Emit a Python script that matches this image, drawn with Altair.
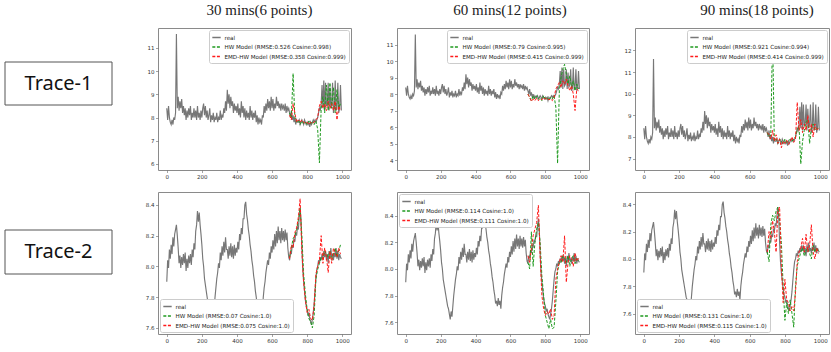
import altair as alt
import pandas as pd

# ---------------- data ----------------
X_REAL = list(range(0, 1000, 5))
X_PRED = list(range(700, 1000, 10))

T1_REAL = [
    8.4, 7.9, 8.5, 8.0, 7.8, 7.7, 7.9, 7.7, 8.0, 7.9,
    8.2, 11.6, 8.4, 8.9, 8.3, 8.7, 8.4, 8.8, 8.2, 8.5,
    8.1, 8.4, 7.9, 8.3, 8.0, 8.4, 8.1, 8.5, 7.9, 8.2,
    8.0, 8.4, 8.0, 8.3, 7.9, 8.5, 8.0, 8.2, 7.9, 8.3,
    8.0, 8.4, 8.6, 8.1, 8.5, 8.0, 8.3, 7.9, 8.1, 8.4,
    7.8, 8.1, 7.9, 8.2, 7.8, 8.0, 7.9, 8.2, 7.8, 8.0,
    7.9, 8.3, 7.9, 8.1, 8.0, 8.4, 8.2, 8.7, 8.3, 9.2,
    8.6, 9.0, 8.4, 8.9, 8.5, 8.7, 8.2, 8.6, 8.3, 8.5,
    8.2, 8.6, 8.1, 8.4, 8.0, 8.7, 8.2, 8.5, 8.0, 8.4,
    7.9, 8.3, 8.0, 8.2, 7.9, 8.5, 8.0, 8.3, 7.9, 8.2,
    8.0, 8.3, 7.8, 8.1, 7.7, 8.0, 7.8, 7.9, 7.7, 8.1,
    8.0, 8.5, 8.2, 8.6, 8.3, 8.8, 8.4, 8.7, 8.3, 8.9,
    8.4, 8.8, 8.3, 8.6, 8.4, 8.9, 8.5, 8.7, 8.4, 8.6,
    8.3, 8.6, 8.4, 8.5, 8.3, 8.6, 8.2, 8.5, 8.3, 8.4,
    8.2, 8.0, 8.3, 7.9, 8.1, 7.8, 8.0, 7.7, 7.9, 7.8,
    7.8, 7.9, 7.7, 7.8, 7.9, 7.8, 7.7, 7.9, 7.8, 7.7,
    7.8, 7.7, 7.8, 7.6, 7.8, 7.7, 7.8, 7.9, 7.8, 7.9,
    7.8, 7.9, 8.0, 8.2, 8.4, 8.3, 8.6, 9.4, 8.4, 9.6,
    8.3, 9.5, 8.5, 8.6, 9.5, 8.3, 9.3, 8.4, 8.6, 9.5,
    8.2, 8.4, 9.6, 8.3, 8.4, 9.5, 8.2, 8.4, 9.4, 8.3,
]

T2_REAL = [
    7.90, 8.04, 7.99, 8.11, 8.05, 8.14, 8.08, 8.19, 8.13, 8.21,
    8.24, 8.27, 8.20, 8.12, 8.02, 8.07, 7.99, 8.06, 8.01, 8.08,
    8.02, 8.09, 7.97, 8.05, 7.99, 8.07, 8.02, 8.08, 8.01, 8.11,
    8.06, 8.15, 8.11, 8.23, 8.27, 8.36, 8.29, 8.35, 8.27, 8.21,
    8.14, 8.05, 8.00, 7.92, 7.88, 7.84, 7.80, 7.76, 7.72, 7.70,
    7.66, 7.62, 7.68, 7.64, 7.72, 7.80, 7.86, 7.92, 7.96, 8.02,
    7.99, 8.09, 8.04, 8.13, 8.07, 8.16, 8.09, 8.19, 8.11, 8.11,
    8.05, 8.13, 8.07, 8.15, 8.06, 8.13, 8.05, 8.14, 8.07, 8.12,
    8.09, 8.16, 8.11, 8.21, 8.17, 8.25, 8.21, 8.31, 8.31, 8.40,
    8.42, 8.34, 8.30, 8.24, 8.20, 8.14, 8.10, 8.04, 8.00, 7.94,
    7.90, 7.84, 7.80, 7.74, 7.76, 7.72, 7.78, 7.73, 7.76, 7.70,
    7.80, 7.86, 7.90, 7.96, 8.00, 8.04, 8.01, 8.09, 8.05, 8.13,
    8.09, 8.17, 8.11, 8.21, 8.13, 8.23, 8.15, 8.26, 8.17, 8.23,
    8.15, 8.25, 8.17, 8.23, 8.16, 8.24, 8.17, 8.22, 8.12, 8.06,
    8.04, 8.10, 8.08, 8.14, 8.12, 8.18, 8.16, 8.22, 8.20, 8.26,
    8.24, 8.32, 8.38, 8.30, 8.12, 7.98, 7.90, 7.84, 7.78, 7.74,
    7.72, 7.68, 7.70, 7.66, 7.64, 7.62, 7.66, 7.70, 7.76, 7.84,
    7.92, 7.98, 8.00, 8.04, 8.02, 8.06, 8.04, 8.08, 8.05, 8.10,
    8.06, 8.10, 8.04, 8.08, 8.02, 8.10, 8.05, 8.12, 8.06, 8.08,
    8.04, 8.09, 8.06, 8.12, 8.05, 8.10, 8.04, 8.08, 8.06, 8.05,
]

# Trace-1 predictions (x = 700..990 step 10)
T1_HW_30 = [8.2, 8.0, 9.9, 8.0, 7.8, 7.9, 7.7, 7.85, 7.75, 7.8,
            7.7, 7.85, 7.75, 7.8, 7.7, 7.85, 7.5, 6.05, 8.4, 8.9,
            8.2, 9.4, 8.3, 9.5, 8.4, 9.3, 8.2, 9.2, 8.4, 8.6]
T1_EMD_30 = [8.1, 7.9, 8.6, 8.2, 7.8, 7.9, 7.8, 7.9, 7.8, 7.75,
             7.8, 7.7, 7.8, 7.75, 7.8, 7.9, 8.0, 8.5, 8.7, 8.4,
             8.6, 8.3, 8.7, 8.4, 8.6, 8.3, 8.7, 7.9, 8.5, 8.3]
T1_HW_60 = [8.0, 7.8, 7.6, 7.9, 7.7, 7.9, 7.7, 7.8, 7.6, 7.9,
            7.7, 7.8, 7.6, 7.8, 7.7, 7.9, 7.2, 3.8, 8.2, 9.0,
            9.5, 9.8, 9.2, 8.6, 9.1, 8.4, 8.8, 8.2, 8.6, 8.3]
T1_EMD_60 = [8.0, 7.8, 7.55, 7.7, 7.6, 7.75, 7.6, 7.7, 7.65, 7.8,
             7.7, 7.75, 7.65, 7.7, 7.6, 7.8, 8.3, 8.5, 8.7, 8.4,
             8.8, 8.6, 8.9, 8.5, 8.2, 8.5, 8.0, 7.0, 8.3, 8.2]
T1_HW_90 = [8.2, 8.0, 8.1, 12.75, 7.8, 7.9, 7.7, 7.9, 7.8, 7.7,
            7.9, 7.75, 7.8, 7.9, 7.8, 7.9, 8.0, 8.3, 8.5, 6.75,
            7.8, 8.3, 8.7, 8.8, 7.7, 8.4, 8.6, 8.3, 8.4, 8.4]
T1_EMD_90 = [8.2, 8.1, 7.9, 8.3, 7.8, 8.1, 7.7, 7.9, 7.5, 7.8,
             7.7, 7.85, 7.65, 7.8, 8.0, 7.75, 7.9, 9.6, 8.3, 8.8,
             8.2, 8.6, 8.3, 9.0, 8.2, 8.6, 8.0, 8.6, 8.3, 8.4]

# Trace-2 predictions
T2_HW_30 = [8.06, 8.12, 8.18, 8.20, 8.24, 8.30, 8.38, 8.20, 7.95, 7.82,
            7.72, 7.66, 7.64, 7.60, 7.68, 7.92, 7.98, 8.02, 8.06, 8.05,
            8.10, 8.08, 8.06, 8.10, 8.04, 8.08, 8.12, 8.06, 8.10, 8.14]
T2_EMD_30 = [8.05, 8.14, 8.12, 8.22, 8.25, 8.32, 8.44, 8.10, 7.90, 7.78,
             7.70, 7.72, 7.66, 7.65, 7.75, 7.95, 8.00, 8.04, 8.20, 8.02,
             8.12, 8.06, 7.96, 8.10, 8.02, 8.12, 8.08, 8.06, 8.12, 8.08]
T2_HW_60 = [8.05, 8.00, 8.28, 8.02, 8.20, 8.30, 8.35, 8.20, 7.95, 7.80,
            7.65, 7.60, 7.55, 7.62, 7.55, 7.56, 7.75, 7.98, 8.05, 8.05,
            8.10, 8.08, 8.05, 8.10, 8.02, 8.08, 8.10, 8.04, 8.08, 8.06]
T2_EMD_60 = [8.10, 8.05, 8.15, 8.25, 8.30, 8.35, 8.48, 8.10, 7.80, 7.70,
             7.65, 7.68, 7.66, 7.70, 7.62, 7.65, 7.92, 8.00, 8.05, 8.10,
             8.05, 8.25, 7.90, 8.05, 8.10, 8.08, 8.02, 8.12, 8.06, 8.08]
T2_HW_90 = [8.05, 7.98, 8.25, 8.32, 8.28, 8.35, 8.38, 8.28, 8.12, 7.80,
            7.55, 7.68, 7.60, 7.70, 7.60, 7.50, 7.80, 7.95, 8.00, 8.05,
            8.08, 8.02, 8.06, 8.08, 8.04, 8.00, 8.10, 8.05, 8.08, 8.06]
T2_EMD_90 = [8.05, 8.20, 8.15, 8.28, 8.20, 8.05, 8.35, 8.38, 7.95, 7.68,
             7.85, 7.70, 7.68, 7.62, 7.65, 7.62, 7.75, 7.98, 8.05, 8.08,
             8.15, 8.05, 8.18, 8.05, 8.10, 8.25, 8.05, 8.00, 8.08, 8.04]

TITLES = ["30 mins(6 points)", "60 mins(12 points)", "90 mins(18 points)"]
TRACES = ["Trace-1", "Trace-2"]
REAL_LABEL = "real"
HW_LABELS = [
    ["HW Model (RMSE:0.526 Cosine:0.998)", "HW Model (RMSE:0.79 Cosine:0.995)", "HW Model (RMSE:0.921 Cosine:0.994)"],
    ["HW Model (RMSE:0.07 Cosine:1.0)", "HW Model (RMSE:0.114 Cosine:1.0)", "HW Model (RMSE:0.131 Cosine:1.0)"],
]
EMD_LABELS = [
    ["EMD-HW Model (RMSE:0.358 Cosine:0.999)", "EMD-HW Model (RMSE:0.415 Cosine:0.999)", "EMD-HW Model (RMSE:0.414 Cosine:0.999)"],
    ["EMD-HW Model (RMSE:0.075 Cosine:1.0)", "EMD-HW Model (RMSE:0.111 Cosine:1.0)", "EMD-HW Model (RMSE:0.115 Cosine:1.0)"],
]
X_TICKS = [0, 200, 400, 600, 800, 1000]
Y_DOMAINS = [
    [[5.74, 11.86], [3.4, 12.0], [6.47, 13.04]],
    [[7.56, 8.484], [7.51, 8.58], [7.45, 8.49]],
]
Y_TICKS = [
    [[6, 7, 8, 9, 10, 11], [4, 5, 6, 7, 8, 9, 10, 11], [7, 8, 9, 10, 11, 12]],
    [[7.6, 7.8, 8.0, 8.2, 8.4]] * 3,
]

REALS = [T1_REAL, T2_REAL]
HWS = [[T1_HW_30, T1_HW_60, T1_HW_90], [T2_HW_30, T2_HW_60, T2_HW_90]]
EMDS = [[T1_EMD_30, T1_EMD_60, T1_EMD_90], [T2_EMD_30, T2_EMD_60, T2_EMD_90]]

# ---------------- styling ----------------
GREY = "#777777"
GREEN = "#1f9a1f"
RED = "#ff1a1a"
PANEL_W = [193, 192, 194]
PANEL_H = 142
LEGEND_ORIENT = [["top-right"] * 3, ["bottom-left", "top-left", "bottom-left"]]
TITLE_DX = [5, 17, 25]


def panel(r, c):
    dom = [REAL_LABEL, HW_LABELS[r][c], EMD_LABELS[r][c]]
    leg = alt.Legend(orient=LEGEND_ORIENT[r][c])
    color = alt.Color("series:N", title=None,
                      scale=alt.Scale(domain=dom, range=[GREY, GREEN, RED]), legend=leg)
    dash = alt.StrokeDash("series:N", title=None,
                          scale=alt.Scale(domain=dom, range=[[1, 0], [3, 1.6], [3, 1.6]]), legend=leg)
    xenc = alt.X("x:Q", title=None,
                 scale=alt.Scale(domain=[-50, 1050], nice=False, zero=False),
                 axis=alt.Axis(values=X_TICKS, format="d"))
    yenc = alt.Y("y:Q", title=None,
                 scale=alt.Scale(domain=Y_DOMAINS[r][c], nice=False, zero=False),
                 axis=alt.Axis(values=Y_TICKS[r][c], format="d" if r == 0 else ".1f"))
    real_df = pd.DataFrame({"x": X_REAL, "y": REALS[r], "series": REAL_LABEL})
    hw_df = pd.DataFrame({"x": X_PRED, "y": HWS[r][c], "series": HW_LABELS[r][c]})
    emd_df = pd.DataFrame({"x": X_PRED, "y": EMDS[r][c], "series": EMD_LABELS[r][c]})
    layers = [
        alt.Chart(real_df).mark_line(strokeWidth=1.15, clip=True).encode(x=xenc, y=yenc, color=color, strokeDash=dash),
        alt.Chart(hw_df).mark_line(strokeWidth=1.0, clip=True).encode(x=xenc, y=yenc, color=color, strokeDash=dash),
        alt.Chart(emd_df).mark_line(strokeWidth=1.0, clip=True).encode(x=xenc, y=yenc, color=color, strokeDash=dash),
    ]
    props = dict(width=PANEL_W[c], height=PANEL_H,
                 view=alt.ViewBackground(stroke="#8a8a8a", strokeWidth=1))
    if r == 0:
        props["title"] = alt.TitleParams(TITLES[c], font="Liberation Serif", fontSize=15,
                                         fontWeight="normal", color="#222222",
                                         anchor="middle", dx=TITLE_DX[c], offset=10)
    return alt.layer(*layers).properties(**props)


LABEL_BOX = [[34, 77], [38, 82]]


def label_chart(r):
    df = pd.DataFrame({"label": [TRACES[r]]})
    y0, y1 = LABEL_BOX[r]
    box = alt.Chart(df).mark_rect(fill="white", stroke="#555555", strokeWidth=1).encode(
        x=alt.value(0), x2=alt.value(107), y=alt.value(y0), y2=alt.value(y1))
    txt = alt.Chart(df).mark_text(font="Noto Sans", fontSize=20, color="#111111",
                                  align="center", baseline="middle").encode(
        text="label:N", x=alt.value(53.5), y=alt.value((y0 + y1) / 2))
    return alt.layer(box, txt).properties(
        width=107, height=PANEL_H, view=alt.ViewBackground(strokeWidth=0))


cells = []
for r in range(2):
    cells.append(label_chart(r))
    for c in range(3):
        cells.append(panel(r, c))

chart = alt.concat(*cells, columns=4, spacing={"row": 11, "column": 31}).resolve_scale(
    color="independent", strokeDash="independent", x="independent", y="independent"
).properties(
    align="each", padding={"left": 4, "top": 2, "right": 0, "bottom": 0}, background="white"
).configure_axis(
    grid=False, domain=False, tickColor="#666666", tickSize=2.5, tickWidth=0.6,
    labelFont="DejaVu Sans", labelFontSize=5.5, labelColor="#333333", labelPadding=1.5
).configure_legend(
    labelFont="DejaVu Sans", labelFontSize=5.6, labelColor="#222222",
    symbolType="stroke", symbolSize=70, symbolStrokeWidth=1.4,
    padding=2.5, rowPadding=0.5, fillColor="white", strokeColor="#cccccc",
    cornerRadius=2, offset=2, labelLimit=400, labelOffset=3
)

chart.save("out.html", embed_options={"renderer": "svg", "actions": False})
